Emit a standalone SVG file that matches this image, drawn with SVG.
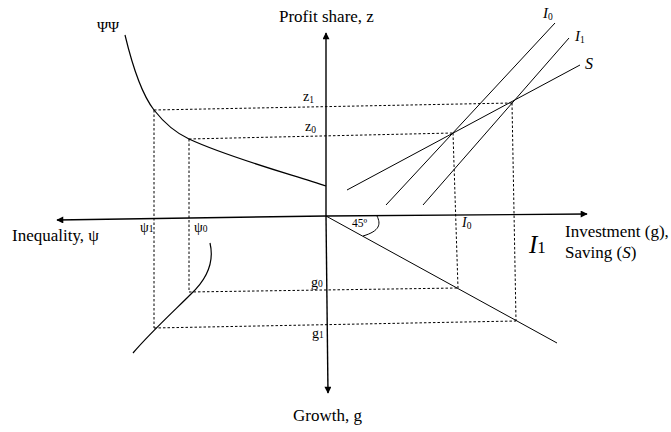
<svg xmlns="http://www.w3.org/2000/svg" width="671" height="432" viewBox="0 0 671 432">
<style>
text{font-family:"Liberation Serif","Times New Roman",serif;fill:#000}
.ax{stroke:#000;stroke-width:1.4;fill:none}
.cv{stroke:#000;stroke-width:1.2;fill:none}
.ln{stroke:#000;stroke-width:1;fill:none}
.ds{stroke:#000;stroke-width:1;fill:none;stroke-dasharray:2.5,2}
.lb{font-size:17px}
.sm{font-size:14px}
.sb{font-size:9.5px}
</style>
<defs>
<marker id="ah" viewBox="0 0 10 10" refX="9" refY="5" markerWidth="9" markerHeight="7" markerUnits="userSpaceOnUse" orient="auto">
<path d="M0,0 L10,5 L0,10 z" fill="#000"/>
</marker>
</defs>
<g id="connectors">
<line class="ax" x1="326" y1="216" x2="326" y2="33" marker-end="url(#ah)"/>
<line class="ax" x1="326" y1="216" x2="328" y2="393" marker-end="url(#ah)"/>
<line class="ax" x1="326" y1="216" x2="57" y2="220" marker-end="url(#ah)"/>
<line class="ax" x1="326" y1="216" x2="587" y2="214" marker-end="url(#ah)"/>
<line class="ds" x1="154" y1="110" x2="512" y2="103"/>
<line class="ds" x1="189" y1="139" x2="453" y2="133"/>
<line class="ds" x1="154" y1="110" x2="154" y2="328"/>
<line class="ds" x1="189" y1="139" x2="189" y2="292"/>
<line class="ds" x1="453" y1="133" x2="458" y2="288"/>
<line class="ds" x1="512" y1="103" x2="516" y2="321"/>
<line class="ds" x1="189" y1="292" x2="458" y2="288"/>
<line class="ds" x1="154" y1="328" x2="516" y2="321"/>
</g>
<g id="psi-curve">
<path class="cv" d="M125,35 C131,60 140,92 154,110 C165,124 176,133 189,139 C230,158 290,174 326,186"/>
<text x="97" y="32" font-size="15">ΨΨ</text>
</g>
<g id="growth-curve">
<path class="cv" d="M210,243 C214,260 208,278 191,294 C175,310 150,333 133,353"/>
</g>
<g id="line-45">
<line class="ln" x1="326" y1="216" x2="557" y2="343"/>
<path class="ln" d="M377,216 C381,224 380,231 363,236"/>
<text x="352" y="227" font-size="11.5">45º</text>
</g>
<g id="I0">
<line class="ln" x1="386" y1="205" x2="555" y2="23"/>
<text x="543" y="18" font-size="15" font-style="italic">I<tspan class="sb" font-style="normal" dy="2">0</tspan></text>
</g>
<g id="I1">
<line class="ln" x1="423" y1="205" x2="569" y2="38"/>
<text x="575" y="41" font-size="15" font-style="italic">I<tspan class="sb" font-style="normal" dy="2">1</tspan></text>
</g>
<g id="S">
<line class="ln" x1="347" y1="190" x2="580" y2="65"/>
<text x="585" y="69" font-size="16" font-style="italic">S</text>
</g>
<g id="labels">
<text class="lb" x="279" y="22">Profit share, z</text>
<text class="lb" x="12" y="241">Inequality, ψ</text>
<text class="lb" x="293" y="421">Growth, g</text>
<text class="lb" x="565" y="237">Investment (g),</text>
<text class="lb" x="565" y="258">Saving (<tspan font-style="italic">S</tspan>)</text>
<text x="529" y="253" font-size="25" font-style="italic">I<tspan font-size="17" font-style="normal">1</tspan></text>
<text x="462" y="227" font-size="14" font-style="italic">I<tspan class="sb" font-style="normal" dy="2">0</tspan></text>
<text class="sm" x="303" y="101">z<tspan class="sb" dy="2">1</tspan></text>
<text class="sm" x="305" y="131">z<tspan class="sb" dy="2">0</tspan></text>
<text class="sm" x="311" y="287">g<tspan class="sb">0</tspan></text>
<text class="sm" x="312" y="338">g<tspan class="sb">1</tspan></text>
<text class="sm" x="140" y="232">ψ<tspan class="sb">1</tspan></text>
<text class="sm" x="194" y="232">ψ<tspan class="sb">0</tspan></text>
</g>
</svg>
